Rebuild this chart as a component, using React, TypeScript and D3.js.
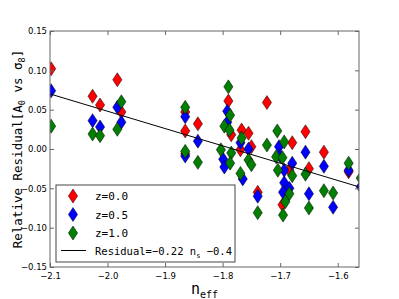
import React, { useEffect, useRef } from "react";
import * as d3 from "d3";

// values: [n_eff, relative residual]
const redPoints: [number, number][] = [
  [-2.098, 0.102], [-2.026, 0.067], [-2.013, 0.056], [-1.983, 0.088], [-1.976, 0.047],
  [-1.865, 0.047], [-1.865, 0.023], [-1.865, -0.006], [-1.843, 0.032], [-1.79, 0.061],
  [-1.785, 0.018], [-1.767, 0.024], [-1.755, 0.02], [-1.75, 0.003], [-1.769, -0.001],
  [-1.723, 0.059], [-1.739, -0.055], [-1.679, 0.008], [-1.684, -0.027], [-1.696, -0.071],
  [-1.656, 0.022], [-1.65, -0.025], [-1.624, -0.004], [-1.581, -0.029]
];
const bluePoints: [number, number][] = [
  [-2.098, 0.074], [-2.026, 0.036], [-2.013, 0.028], [-1.983, 0.053], [-1.976, 0.034],
  [-1.865, 0.041], [-1.843, 0.01], [-1.865, -0.009], [-1.792, 0.048], [-1.792, 0.034],
  [-1.799, -0.013], [-1.797, -0.023], [-1.769, 0.008], [-1.755, 0.0], [-1.765, -0.038],
  [-1.739, -0.06], [-1.702, 0.003], [-1.7, -0.009], [-1.679, -0.018], [-1.693, -0.027],
  [-1.693, -0.043], [-1.684, -0.05], [-1.695, -0.055], [-1.656, -0.004], [-1.65, -0.057],
  [-1.624, -0.022], [-1.608, -0.074], [-1.581, -0.027], [-1.56, -0.048]
];
const greenPoints: [number, number][] = [
  [-2.098, 0.029], [-2.026, 0.019], [-2.013, 0.017], [-1.983, 0.025], [-1.976, 0.06],
  [-1.865, 0.053], [-1.865, -0.003], [-1.843, -0.017], [-1.79, 0.079], [-1.787, 0.043],
  [-1.797, 0.029], [-1.788, 0.024], [-1.803, -0.001], [-1.785, -0.005], [-1.787, -0.018],
  [-1.767, 0.014], [-1.755, -0.014], [-1.75, -0.02], [-1.769, -0.031], [-1.739, -0.081],
  [-1.705, 0.023], [-1.723, 0.005], [-1.693, 0.009], [-1.707, -0.01], [-1.696, -0.011],
  [-1.704, -0.027], [-1.679, -0.034], [-1.684, -0.057], [-1.691, -0.067], [-1.695, -0.084],
  [-1.656, -0.032], [-1.65, -0.075], [-1.624, -0.053], [-1.608, -0.056], [-1.581, -0.018],
  [-1.56, -0.037]
];

const seriesNames = ["z=0.0", "z=0.5", "z=1.0"];
const seriesColors = ["#ff0000", "#0000ff", "#007f00"];

const xTicks = [-2.1, -2.0, -1.9, -1.8, -1.7, -1.6];
const yTicks = [-0.15, -0.1, -0.05, 0.0, 0.05, 0.1, 0.15];

const fitSlope = -0.22;
const fitIntercept = -0.392;

const MONO = "'DejaVu Sans Mono', monospace";

export default function App() {
  const ref = useRef<SVGSVGElement>(null);

  useEffect(() => {
    const width = 399;
    const height = 299;
    const margin = { top: 31, right: 40, bottom: 32, left: 50 };

    const svg = d3.select(ref.current);
    svg.selectAll("*").remove();

    const x = d3.scaleLinear().domain([-2.1, -1.563]).range([margin.left, width - margin.right]);
    const y = d3.scaleLinear().domain([-0.15, 0.15]).range([height - margin.bottom, margin.top]);

    const fmt = (d: number, p: number) => d3.format(`.${p}f`)(d).replace("-", "\u2212");

    svg.append("clipPath").attr("id", "plotclip").append("rect")
      .attr("x", x.range()[0]).attr("y", y.range()[1])
      .attr("width", x.range()[1] - x.range()[0])
      .attr("height", y.range()[0] - y.range()[1]);

    const plot = svg.append("g").attr("clip-path", "url(#plotclip)");

    // diamonds, drawn series by series
    const diamond = (hw: number, hh: number) => `M0,${-hh}L${hw},0L0,${hh}L${-hw},0Z`;
    [redPoints, bluePoints, greenPoints].forEach((pts, i) => {
      plot.selectAll(`.s${i}`)
        .data(pts)
        .join("path")
        .attr("d", diamond(4.6, 7))
        .attr("transform", d => `translate(${x(d[0])},${y(d[1])})`)
        .attr("fill", seriesColors[i])
        .attr("stroke", "#000")
        .attr("stroke-width", 0.5);
    });

    // fit line
    const line = d3.line<number>().x(d => x(d)).y(d => y(fitSlope * d + fitIntercept));
    plot.append("path")
      .attr("d", line(x.domain()))
      .attr("fill", "none")
      .attr("stroke", "#000")
      .attr("stroke-width", 1);

    // frame
    svg.append("rect")
      .attr("x", x.range()[0]).attr("y", y.range()[1])
      .attr("width", x.range()[1] - x.range()[0])
      .attr("height", y.range()[0] - y.range()[1])
      .attr("fill", "none").attr("stroke", "#666").attr("stroke-width", 1);

    // axes, ticks pointing inward
    const axB = svg.append("g").attr("transform", `translate(0,${y.range()[0]})`)
      .call(d3.axisBottom(x).tickValues(xTicks).tickSizeInner(-4).tickSizeOuter(0).tickPadding(7).tickFormat(d => fmt(+d, 1)));
    const axT = svg.append("g").attr("transform", `translate(0,${y.range()[1]})`)
      .call(d3.axisTop(x).tickValues(xTicks).tickSizeInner(-4).tickSizeOuter(0).tickFormat(() => ""));
    const axL = svg.append("g").attr("transform", `translate(${x.range()[0]},0)`)
      .call(d3.axisLeft(y).tickValues(yTicks).tickSizeInner(-4).tickSizeOuter(0).tickPadding(3).tickFormat(d => fmt(+d, 2)));
    const axR = svg.append("g").attr("transform", `translate(${x.range()[1]},0)`)
      .call(d3.axisRight(y).tickValues(yTicks).tickSizeInner(-4).tickSizeOuter(0).tickFormat(() => ""));
    [axB, axT, axL, axR].forEach(a => {
      a.select(".domain").remove();
      a.selectAll("line").attr("stroke", "#666");
      a.selectAll("text").attr("fill", "#000").style("font-family", "'DejaVu Sans', sans-serif").style("font-size", "8.5px");
    });
    axB.selectAll("text").attr("dy", "0.6em");

    // axis labels
    const xl = svg.append("text")
      .attr("x", (x.range()[0] + x.range()[1]) / 2)
      .attr("y", 294)
      .attr("text-anchor", "middle")
      .style("font-family", MONO)
      .style("font-size", "15px");
    xl.append("tspan").text("n");
    xl.append("tspan").attr("dy", 4).style("font-size", "10px").text("eff");

    const yl = svg.append("text")
      .attr("transform", `translate(22,${(y.range()[0] + y.range()[1]) / 2}) rotate(-90)`)
      .attr("text-anchor", "middle")
      .style("font-family", MONO)
      .style("font-size", "12.5px");
    yl.append("tspan").text("Relative Residual[A");
    yl.append("tspan").attr("dy", 3).style("font-size", "8.5px").text("0");
    yl.append("tspan").attr("dy", -3).text(" vs \u03c3");
    yl.append("tspan").attr("dy", 3).style("font-size", "8.5px").text("8");
    yl.append("tspan").attr("dy", -3).text("]");

    // legend
    const lg = svg.append("g");
    lg.append("rect")
      .attr("x", 56).attr("y", 185).attr("width", 179).attr("height", 77)
      .attr("fill", "#fff").attr("stroke", "#444").attr("stroke-width", 1);
    seriesNames.forEach((name, i) => {
      const cy = 196 + i * 18.5;
      lg.append("path")
        .attr("d", diamond(4.6, 7))
        .attr("transform", `translate(73,${cy})`)
        .attr("fill", seriesColors[i]).attr("stroke", "#000").attr("stroke-width", 0.5);
      lg.append("text")
        .attr("x", 95).attr("y", cy + 4)
        .style("font-family", MONO).style("font-size", "11px")
        .text(name);
    });
    const ly = 196 + 3 * 18.5 - 1;
    lg.append("line").attr("x1", 61).attr("x2", 86).attr("y1", ly).attr("y2", ly)
      .attr("stroke", "#000").attr("stroke-width", 1);
    const lt = lg.append("text")
      .attr("x", 95).attr("y", ly + 4)
      .style("font-family", MONO).style("font-size", "10.5px");
    lt.append("tspan").text("Residual=\u22120.22 n");
    lt.append("tspan").attr("dy", 3).style("font-size", "7px").text("s");
    lt.append("tspan").attr("dy", -3).text(" \u22120.4");
  }, []);

  return (
    <svg
      ref={ref}
      width={399}
      height={299}
      style={{ position: "absolute", left: 0, top: 0, background: "#fff" }}
    />
  );
}
